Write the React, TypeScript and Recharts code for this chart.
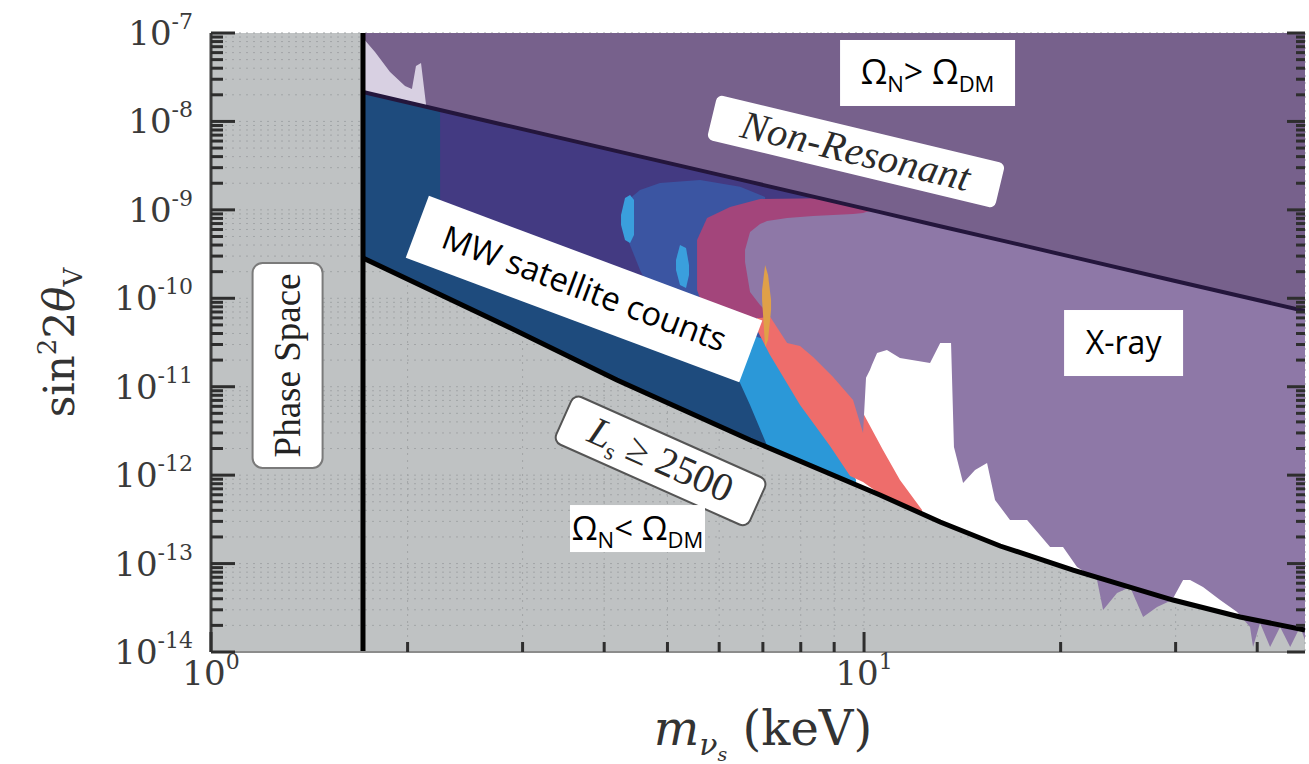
import React from "react";
import {
  ComposedChart,
  Area,
  Line,
  XAxis,
  YAxis,
  CartesianGrid,
  ReferenceLine,
  ReferenceDot,
} from "recharts";

// axis ranges: sterile neutrino mass (keV) vs mixing angle sin^2(2θ)
const M_MIN = 1;
const M_MAX = 47.34;
const S_MIN = 1e-14;
const S_MAX = 1e-7;
const PHASE_SPACE_KEV = 1.709;

const M_TICKS = [1, 2, 3, 4, 5, 6, 7, 8, 9, 10, 20, 30, 40];
const S_DECADES = [-14, -13, -12, -11, -10, -9, -8];
const S_MANTISSAS = [1, 2, 3, 4, 5, 6, 7, 8, 9];
const S_TICKS = [...S_DECADES.flatMap((e) => S_MANTISSAS.map((k) => k * 10 ** e)), S_MAX];

// boundary curves
const MASS_KEV = [1.709, 2.771, 4.184, 6.69, 10.58, 13.08, 16.16, 20.9, 29.73, 37.65, 47.34];
const NON_RESONANT = [2.15e-8, 9.37e-9, 4.61e-9, 2.07e-9, 9.42e-10, 6.53e-10, 4.55e-10, 2.92e-10, 1.59e-10, 1.06e-10, 7.18e-11];
const LS_2500 = [2.86e-10, 5.26e-11, 1.19e-11, 2.5e-12, 5.97e-13, 2.95e-13, 1.58e-13, 8.45e-14, 3.87e-14, 2.49e-14, 1.77e-14];

// regions: [mass keV, lower, upper]
type Row = [number, number, number];

const MW_NAVY: Row[] = [
  [1.709, 2.86e-10, 2.15e-8],
  [2.771, 5.26e-11, 9.37e-9],
  [4.184, 1.19e-11, 4.61e-9],
  [6.69, 2.5e-12, 2.07e-9],
  [7.437, 1.8e-12, 1.72e-9],
];

const MW_INDIGO: Row[] = [
  [2.243, 3.52e-10, 1.35e-8],
  [5.609, 4.38e-11, 2.79e-9],
  [8.562, 9.57e-11, 1.35e-9],
];

const MW_BLUE: Row[] = [
  [4.291, 7.3e-10, 9.46e-10],
  [4.351, 4.56e-10, 1.29e-9],
  [4.539, 2.09e-10, 1.68e-9],
  [4.87, 7.38e-11, 2.01e-9],
  [5.609, 2.81e-11, 2.18e-9],
  [6.459, 2.0e-11, 1.82e-9],
  [7.055, 2.0e-11, 1.4e-9],
];

const MW_SKY_A: Row[] = [
  [4.245, 6.75e-10, 8.74e-10],
  [4.305, 4.56e-10, 1.36e-9],
  [4.382, 4.22e-10, 1.47e-9],
  [4.444, 5.2e-10, 1.29e-9],
];

const MW_SKY_B: Row[] = [
  [5.153, 2.09e-10, 2.71e-10],
  [5.226, 1.41e-10, 4.01e-10],
  [5.338, 1.31e-10, 3.71e-10],
  [5.395, 1.83e-10, 2.38e-10],
];

const MW_SKY: Row[] = [
  [6.346, 1.47e-11, 4.38e-11],
  [6.69, 6.21e-12, 3.85e-11],
  [7.129, 2.03e-12, 3.37e-11],
  [7.98, 1.41e-12, 2.0e-11],
  [8.869, 1.03e-12, 4.21e-12],
  [9.722, 7.53e-13, 8.81e-13],
];

const MW_SALMON: Row[] = [
  [6.857, 4.38e-11, 9.57e-11],
  [7.178, 2.29e-11, 9.57e-11],
  [7.98, 6.21e-12, 9.57e-11],
  [8.869, 2.14e-12, 9.57e-11],
  [9.519, 9.77e-13, 9.57e-11],
  [9.965, 8.38e-13, 5.05e-12],
  [10.69, 5.81e-13, 1.92e-12],
  [11.35, 4.78e-13, 8.81e-13],
  [12.27, 3.83e-13, 4.04e-13],
];

const MW_MAGENTA: Row[] = [
  [5.55, 1.24e-10, 4.56e-10],
  [5.749, 5.98e-11, 8.09e-10],
  [6.235, 5.98e-11, 1.08e-9],
  [6.93, 5.98e-11, 1.33e-9],
  [8.562, 7.38e-11, 1.35e-9],
  [10.21, 9.57e-11, 9.99e-10],
];

const XRAY: Row[] = [
  [6.573, 2.57e-10, 3.52e-10],
  [6.69, 1.18e-10, 5.62e-10],
  [6.93, 8.4e-11, 6.92e-10],
  [7.104, 7.0e-11, 7.48e-10],
  [7.624, 3.12e-11, 8.09e-10],
  [7.98, 2.88e-11, 8.3e-10],
  [8.354, 2.17e-11, 8.52e-10],
  [8.965, 1.29e-11, 8.74e-10],
  [9.62, 7.08e-12, 8.97e-10],
  [9.965, 3.0e-12, 9.2e-10],
  [10.07, 1.26e-11, 9.46e-10],
  [10.21, 1.55e-11, 9.7e-10],
  [10.28, 1.76e-11, 1e-7],
  [10.47, 2.4e-11, 1e-7],
  [10.84, 2.6e-11, 1e-7],
  [11.35, 2.11e-11, 1e-7],
  [12.62, 1.85e-11, 1e-7],
  [13.08, 3.12e-11, 1e-7],
  [13.59, 3.12e-11, 1e-7],
  [13.73, 2.08e-12, 1e-7],
  [14.18, 8.14e-13, 1e-7],
  [14.79, 1.14e-12, 1e-7],
  [15.43, 1.37e-12, 1e-7],
  [15.87, 5.24e-13, 1e-7],
  [16.73, 3.11e-13, 1e-7],
  [17.77, 3.11e-13, 1e-7],
  [19.27, 1.54e-13, 1e-7],
  [20.17, 1.54e-13, 1e-7],
  [21.19, 9.14e-14, 1e-7],
  [22.74, 6.52e-14, 1e-7],
  [23.23, 2.99e-14, 1e-7],
  [24.4, 4.65e-14, 1e-7],
  [25.55, 5.43e-14, 1e-7],
  [26.75, 2.49e-14, 1e-7],
  [28.1, 3.23e-14, 1e-7],
  [29.63, 3.87e-14, 1e-7],
  [30.8, 6.52e-14, 1e-7],
  [31.57, 6.52e-14, 1e-7],
  [33.04, 5.43e-14, 1e-7],
  [35.1, 3.87e-14, 1e-7],
  [37.26, 2.83e-14, 1e-7],
  [39.0, 1.92e-14, 1e-7],
  [39.42, 1.14e-14, 1e-7],
  [40.4, 2.13e-14, 1e-7],
  [41.86, 1.14e-14, 1e-7],
  [43.36, 1.92e-14, 1e-7],
  [44.93, 1.14e-14, 1e-7],
  [46.52, 1.92e-14, 1e-7],
  [47.34, 1.37e-14, 1e-7],
];

const XRAY_ORANGE: Row[] = [
  [6.98, 9.57e-11, 1.24e-10],
  [7.055, 2.81e-11, 2.38e-10],
  [7.129, 3.37e-11, 1.83e-10],
  [7.204, 7.38e-11, 9.57e-11],
];

const XRAY_GAP_TOP: Row[] = [
  [1.709, 2.15e-8, 8.78e-8],
  [1.783, 2.0e-8, 6.1e-8],
  [1.88, 1.83e-8, 3.62e-8],
  [1.982, 1.66e-8, 2.52e-8],
  [2.031, 1.6e-8, 2.33e-8],
  [2.06, 1.56e-8, 4.24e-8],
  [2.097, 1.51e-8, 4.58e-8],
  [2.134, 1.47e-8, 1.57e-8],
];

// label anchor points [keV, sin^2 2θ]
const LABEL_AT: Record<string, [number, number]> = {
  phaseSpace: [1.31, 1.74e-11],
  nonResonant: [9.72, 4.57e-9],
  mw: [3.726, 1.27e-10],
  ls: [4.88, 1.45e-12],
  over: [12.51, 3.53e-8],
  xray: [24.97, 3.12e-11],
  under: [4.499, 2.49e-13],
};

const rows = (r: Row[]) => r.map(([m, lo, hi]) => ({ m, lo, hi }));
const bandKey = (d: { lo: number; hi: number }) => [d.lo, d.hi];

const allowedBand = MASS_KEV.map((m, i) => ({ m, lo: LS_2500[i], hi: NON_RESONANT[i] }));
const overclosedBand = MASS_KEV.map((m, i) => ({ m, lo: NON_RESONANT[i], hi: S_MAX }));
const nonResLine = MASS_KEV.map((m, i) => ({ m, v: NON_RESONANT[i] }));
const lsLine = MASS_KEV.map((m, i) => ({ m, v: LS_2500[i] }));

const LAYERS = [
  { id: "allowed", data: allowedBand, fill: "#ffffff" },
  { id: "navy", data: rows(MW_NAVY), fill: "#1e4b7d" },
  { id: "indigo", data: rows(MW_INDIGO), fill: "#433a82" },
  { id: "blue", data: rows(MW_BLUE), fill: "#3b55a2" },
  { id: "skyA", data: rows(MW_SKY_A), fill: "#3a9fdd" },
  { id: "skyB", data: rows(MW_SKY_B), fill: "#3a9fdd" },
  { id: "sky", data: rows(MW_SKY), fill: "#2b98d8" },
  { id: "salmon", data: rows(MW_SALMON), fill: "#ee6d6b" },
  { id: "magenta", data: rows(MW_MAGENTA), fill: "#a3457b" },
  { id: "xray", data: rows(XRAY), fill: "#8e78a7" },
  { id: "orange", data: rows(XRAY_ORANGE), fill: "#e0a048" },
  { id: "overclosed", data: overclosedBand, fill: "#77618c" },
  { id: "gapTop", data: rows(XRAY_GAP_TOP), fill: "#d8d0e2" },
];

const SERIF = "'DejaVu Serif', serif";
const TIMES = "'Liberation Serif', serif";
const SANS = "'Open Sans', sans-serif";

const isDecade = (v: number) => Math.abs(Math.log10(v) - Math.round(Math.log10(v))) < 1e-6;

function Pow10({ x, y, v, anchor }: { x: number; y: number; v: number; anchor: string }) {
  return (
    <text x={x} y={y} textAnchor={anchor} fontFamily={SERIF} fill="#3a3a3a">
      <tspan fontSize={34}>10</tspan>
      <tspan fontSize={22} dy={-16}>{Math.round(Math.log10(v))}</tspan>
    </text>
  );
}

function LeftTick(props: any) {
  const { x, y, payload } = props;
  const major = isDecade(payload.value);
  return (
    <g>
      <line x1={x} y1={y} x2={x + (major ? 24 : 12)} y2={y} stroke="#2e2e2e" strokeWidth={3} />
      {major && <Pow10 x={x - 18} y={y + 12} v={payload.value} anchor="end" />}
    </g>
  );
}

function RightTick(props: any) {
  const { x, y, payload } = props;
  const major = isDecade(payload.value);
  return <line x1={x} y1={y} x2={x - (major ? 18 : 9)} y2={y} stroke="#2e2e2e" strokeWidth={3} />;
}

function BottomTick(props: any) {
  const { x, y, payload } = props;
  const major = isDecade(payload.value);
  return (
    <g>
      <line x1={x} y1={y} x2={x} y2={y - (major ? 20 : 10)} stroke="#2e2e2e" strokeWidth={3} />
      {major && <Pow10 x={x} y={y + 33} v={payload.value} anchor="middle" />}
    </g>
  );
}

function TopTick(props: any) {
  const { x, y, payload } = props;
  const major = isDecade(payload.value);
  return <line x1={x} y1={y} x2={x} y2={y + (major ? 20 : 10)} stroke="#2e2e2e" strokeWidth={3} />;
}

function XLabel(props: any) {
  const vb = props.viewBox;
  return (
    <text x={vb.x + vb.width / 2 + 5} y={vb.y + 93} textAnchor="middle" fontFamily={SERIF} fontSize={48} fill="#333">
      <tspan fontStyle="italic">m</tspan>
      <tspan fontStyle="italic" fontSize={30} dy={10}>ν</tspan>
      <tspan fontStyle="italic" fontSize={19} dy={6}>s</tspan>
      <tspan dy={-16}>{"\u00a0(keV)"}</tspan>
    </text>
  );
}

function YLabel(props: any) {
  const vb = props.viewBox;
  const cx = vb.x + 50;
  const cy = vb.y + vb.height / 2;
  return (
    <text transform={`translate(${cx},${cy}) rotate(-90)`} y={24} textAnchor="middle" fontFamily={SERIF} fontSize={42} fill="#333">
      <tspan>sin</tspan>
      <tspan fontSize={26} dy={-18}>2</tspan>
      <tspan dy={18}>2</tspan>
      <tspan fontStyle="italic">θ</tspan>
      <tspan fontSize={26} dy={8}>V</tspan>
    </text>
  );
}

function BoxLabel({ cx, cy, w, h, angle = 0, rx = 0, stroke = "none", children }: any) {
  return (
    <g transform={`translate(${cx},${cy}) rotate(${angle})`}>
      <rect x={-w / 2} y={-h / 2} width={w} height={h} rx={rx} fill="#fff" stroke={stroke} strokeWidth={2} />
      {children}
    </g>
  );
}

function OmegaText({ rel, size }: { rel: string; size: number }) {
  const sub = Math.round(size * 0.66);
  return (
    <text x={0} y={11} textAnchor="middle" fontFamily={SANS} fontSize={size} fill="#000">
      <tspan>Ω</tspan>
      <tspan fontSize={sub} dy={8}>N</tspan>
      <tspan dy={-8}>{rel + " Ω"}</tspan>
      <tspan fontSize={sub} dy={8}>DM</tspan>
    </text>
  );
}

export default function App() {
  return (
    <div style={{ position: "absolute", left: 0, top: 0, width: 1309, height: 764, background: "#fff" }}>
      <ComposedChart width={1309} height={764} margin={{ top: 33, right: 0, bottom: 0, left: 0 }}>
        <CartesianGrid fill="#bfc2c3" fillOpacity={1} stroke="#a2a5a7" strokeDasharray="2 5" />
        <XAxis
          dataKey="m"
          type="number"
          scale="log"
          domain={[M_MIN, M_MAX]}
          allowDataOverflow
          ticks={M_TICKS}
          interval={0}
          tick={<BottomTick />}
          tickLine={false}
          tickSize={0}
          tickMargin={0}
          height={112}
          axisLine={{ stroke: "#8c8c8c", strokeWidth: 2 }}
          label={<XLabel />}
        />
        <XAxis
          xAxisId="top"
          orientation="top"
          dataKey="m"
          type="number"
          scale="log"
          domain={[M_MIN, M_MAX]}
          allowDataOverflow
          ticks={M_TICKS}
          interval={0}
          tick={<TopTick />}
          tickLine={false}
          tickSize={0}
          tickMargin={0}
          height={0}
          axisLine={{ stroke: "#4a4a4a", strokeWidth: 3 }}
        />
        <YAxis
          type="number"
          scale="log"
          domain={[S_MIN, S_MAX]}
          allowDataOverflow
          ticks={S_TICKS}
          interval={0}
          tick={<LeftTick />}
          tickLine={false}
          tickSize={0}
          tickMargin={0}
          width={211}
          axisLine={{ stroke: "#3c3c3c", strokeWidth: 3 }}
          label={<YLabel />}
        />
        <YAxis
          yAxisId="right"
          orientation="right"
          type="number"
          scale="log"
          domain={[S_MIN, S_MAX]}
          allowDataOverflow
          ticks={S_TICKS}
          interval={0}
          tick={<RightTick />}
          tickLine={false}
          tickSize={0}
          tickMargin={0}
          width={4}
          axisLine={false}
        />

        {LAYERS.map((l) => (
          <Area
            key={l.id}
            data={l.data}
            dataKey={bandKey}
            type="linear"
            stroke="none"
            fill={l.fill}
            fillOpacity={1}
            dot={false}
            activeDot={false}
            isAnimationActive={false}
          />
        ))}

        <Line data={nonResLine} dataKey="v" type="linear" stroke="#24163c" strokeWidth={4} dot={false} activeDot={false} isAnimationActive={false} />
        <Line data={lsLine} dataKey="v" type="linear" stroke="#000" strokeWidth={5} dot={false} activeDot={false} isAnimationActive={false} />
        <ReferenceLine x={PHASE_SPACE_KEV} stroke="#000" strokeWidth={5} />

        <ReferenceDot
          x={LABEL_AT.phaseSpace[0]}
          y={LABEL_AT.phaseSpace[1]}
          r={1}
          shape={(p: any) => (
            <BoxLabel cx={p.cx} cy={p.cy} w={205} h={70} angle={-90} rx={10} stroke="#7a7a7a">
              <text x={0} y={12} textAnchor="middle" fontFamily={TIMES} fontSize={37} fill="#222">Phase Space</text>
            </BoxLabel>
          )}
        />
        <ReferenceDot
          x={LABEL_AT.nonResonant[0]}
          y={LABEL_AT.nonResonant[1]}
          r={1}
          shape={(p: any) => (
            <BoxLabel cx={p.cx} cy={p.cy} w={296} h={46} angle={13.5} rx={6}>
              <text x={0} y={13} textAnchor="middle" fontFamily={TIMES} fontStyle="italic" fontSize={40} letterSpacing={0.5} fill="#2a2a2a">Non-Resonant</text>
            </BoxLabel>
          )}
        />
        <ReferenceDot
          x={LABEL_AT.ls[0]}
          y={LABEL_AT.ls[1]}
          r={1}
          shape={(p: any) => (
            <BoxLabel cx={p.cx} cy={p.cy} w={212} h={52} angle={24} rx={8} stroke="#555">
              <text x={0} y={12} textAnchor="middle" fontFamily={TIMES} fontSize={40} fill="#2a2a2a">
                <tspan fontStyle="italic">L</tspan>
                <tspan fontSize={24} dy={8}>s</tspan>
                <tspan dy={-8}>{"\u00a0≥\u00a02500"}</tspan>
              </text>
            </BoxLabel>
          )}
        />
        <ReferenceDot
          x={LABEL_AT.mw[0]}
          y={LABEL_AT.mw[1]}
          r={1}
          shape={(p: any) => (
            <BoxLabel cx={p.cx} cy={p.cy} w={356} h={66} angle={20.5}>
              <text x={0} y={11} textAnchor="middle" fontFamily={SANS} fontSize={33} fill="#000">MW satellite counts</text>
            </BoxLabel>
          )}
        />
        <ReferenceDot
          x={LABEL_AT.over[0]}
          y={LABEL_AT.over[1]}
          r={1}
          shape={(p: any) => (
            <BoxLabel cx={p.cx} cy={p.cy} w={175} h={66}>
              <OmegaText rel=">" size={34} />
            </BoxLabel>
          )}
        />
        <ReferenceDot
          x={LABEL_AT.xray[0]}
          y={LABEL_AT.xray[1]}
          r={1}
          shape={(p: any) => (
            <BoxLabel cx={p.cx} cy={p.cy} w={119} h={66}>
              <text x={0} y={11} textAnchor="middle" fontFamily={SANS} fontSize={32} fill="#000">X-ray</text>
            </BoxLabel>
          )}
        />
        <ReferenceDot
          x={LABEL_AT.under[0]}
          y={LABEL_AT.under[1]}
          r={1}
          shape={(p: any) => (
            <BoxLabel cx={p.cx} cy={p.cy} w={135} h={47}>
              <OmegaText rel="<" size={33} />
            </BoxLabel>
          )}
        />
      </ComposedChart>
    </div>
  );
}
